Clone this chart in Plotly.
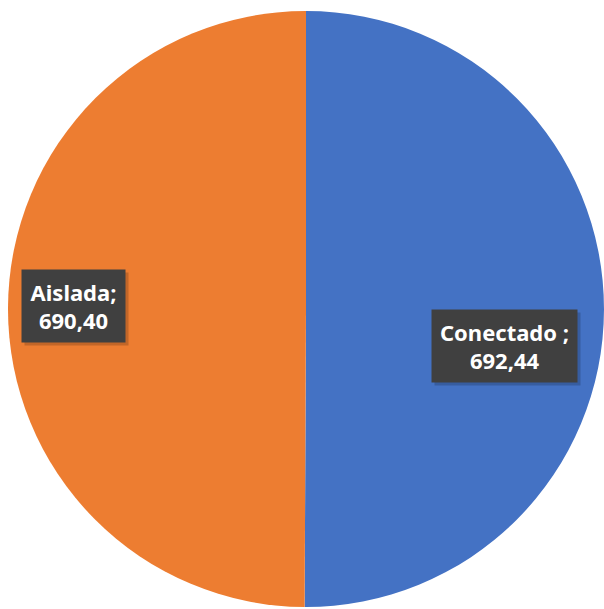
import plotly.graph_objects as go

labels = ["Conectado", "Aislada"]
values = [692.44, 690.40]
separators = [" ;", ";"]
colors = ["#4472C4", "#ED7D31"]

W, H = 604, 609

fig = go.Figure(go.Pie(
    labels=labels,
    values=values,
    sort=False,
    direction="clockwise",
    rotation=0,
    marker=dict(colors=colors, line=dict(color="#ffffff", width=0)),
    textinfo="none",
    hoverinfo="label+value",
    showlegend=False,
    domain=dict(x=[8 / W, 604 / W], y=[2 / H, 598 / H]),
))

# label boxes (centre px, size px)
boxes = {
    "Conectado": (504.5, 346, 145, 72),
    "Aislada": (73.5, 306, 103, 72),
}

for lab, val, sep in zip(labels, values, separators):
    cx, cy, bw, bh = boxes[lab]
    txt = f"<b>{lab}{sep}<br>{val:.2f}</b>".replace(".", ",")
    # shadow
    fig.add_annotation(
        x=(cx + 3) / W, y=1 - (cy + 3) / H, xref="paper", yref="paper",
        text="", showarrow=False, width=bw, height=bh,
        bgcolor="rgba(0,0,0,0.18)", borderpad=0,
        xanchor="center", yanchor="middle",
    )
    fig.add_annotation(
        x=cx / W, y=1 - cy / H, xref="paper", yref="paper",
        text=txt, showarrow=False, width=bw, height=bh,
        bgcolor="#404040", borderpad=0, align="center",
        font=dict(family="Noto Sans, Open Sans, sans-serif", size=22, color="#ffffff"),
        xanchor="center", yanchor="middle",
    )

fig.update_layout(
    width=W, height=H,
    margin=dict(l=0, r=0, t=0, b=0),
    paper_bgcolor="#ffffff",
    plot_bgcolor="#ffffff",
)

fig.write_html(
    "out.html",
    config={"displayModeBar": False},
    post_script="document.body.style.margin='0';document.body.style.overflow='hidden';",
)
